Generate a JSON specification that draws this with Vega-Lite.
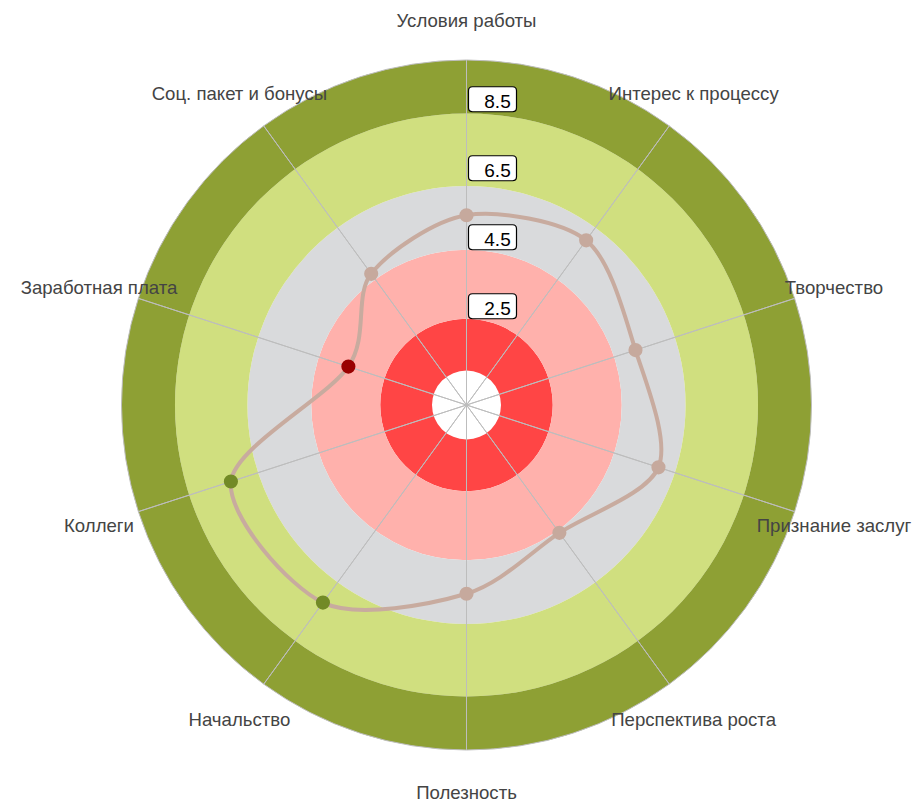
{
  "$schema": "https://vega.github.io/schema/vega-lite/v6.json",
  "width": 780,
  "height": 780,
  "autosize": "none",
  "padding": {"left": 76.5, "top": 15, "right": 61.5, "bottom": 11},
  "background": "white",
  "config": {"view": {"stroke": null}},
  "datasets": {
    "axes": [
      {"idx": 0, "axis": "Условия работы", "value": 5.5},
      {"idx": 1, "axis": "Интерес к процессу", "value": 5.9},
      {"idx": 2, "axis": "Творчество", "value": 5.15},
      {"idx": 3, "axis": "Признание заслуг", "value": 5.85},
      {"idx": 4, "axis": "Перспектива роста", "value": 4.58},
      {"idx": 5, "axis": "Полезность", "value": 5.47},
      {"idx": 6, "axis": "Начальство", "value": 7.08},
      {"idx": 7, "axis": "Коллеги", "value": 7.18},
      {"idx": 8, "axis": "Заработная плата", "value": 3.6},
      {"idx": 9, "axis": "Соц. пакет и бонусы", "value": 4.7}
    ],
    "bands": [
      {"band": "zone1", "from": 1, "to": 2.5},
      {"band": "zone2", "from": 2.5, "to": 4.5},
      {"band": "zone3", "from": 4.5, "to": 6.35},
      {"band": "zone4", "from": 6.35, "to": 8.45},
      {"band": "zone5", "from": 8.45, "to": 10}
    ],
    "ticks": [
      {"v": 2.5, "label": "2.5"},
      {"v": 4.5, "label": "4.5"},
      {"v": 6.5, "label": "6.5"},
      {"v": 8.5, "label": "8.5"}
    ]
  },
  "resolve": {"scale": {"color": "independent"}},
  "layer": [
    {
      "data": {"name": "bands"},
      "mark": {"type": "arc", "theta": 0, "theta2": 6.283185307179586},
      "encoding": {
        "radius": {"field": "to", "type": "quantitative", "scale": {"type": "linear", "domain": [0, 10], "range": [0, 345], "zero": true, "nice": false}},
        "radius2": {"field": "from"},
        "color": {
          "field": "band", "type": "nominal", "legend": null,
          "scale": {"domain": ["zone1", "zone2", "zone3", "zone4", "zone5"], "range": ["#ff4545", "#ffb1ac", "#d9dadc", "#d0df7f", "#8ea034"]}
        }
      }
    },
    {
      "data": {"name": "axes"},
      "mark": {"type": "arc", "fill": "white", "fillOpacity": 0, "stroke": "#bdbdbd", "strokeWidth": 1},
      "encoding": {
        "theta": {"aggregate": "count", "type": "quantitative", "scale": {"domain": [0, 10], "range": [0, 6.283185307179586]}},
        "radius": {"datum": 10, "type": "quantitative", "scale": {"type": "linear", "domain": [0, 10], "range": [0, 345], "zero": true, "nice": false}},
        "detail": {"field": "axis", "type": "nominal"}
      }
    },
    {
      "data": {"name": "axes"},
      "mark": {"type": "text", "font": "Liberation Sans", "fontSize": 18.6, "color": "#444444", "align": "center", "baseline": "middle", "dy": 2},
      "encoding": {
        "theta": {"field": "idx", "type": "quantitative", "stack": false, "scale": {"domain": [0, 10], "range": [0, 6.283185307179586]}},
        "radius": {"datum": 11.2, "type": "quantitative", "scale": {"type": "linear", "domain": [0, 10], "range": [0, 345], "zero": true, "nice": false}},
        "text": {"field": "axis", "type": "nominal"}
      }
    },
    {
      "data": {"name": "axes"},
      "transform": [
        {"calculate": "datum.value * sin(datum.idx * PI / 5)", "as": "px"},
        {"calculate": "datum.value * cos(datum.idx * PI / 5)", "as": "py"}
      ],
      "mark": {"type": "line", "interpolate": "cardinal-closed", "tension": 0.12, "color": "#c8ab9f", "strokeWidth": 4},
      "encoding": {
        "x": {"field": "px", "type": "quantitative", "axis": null, "scale": {"domain": [-11.30435, 11.30435], "nice": false, "zero": false}},
        "y": {"field": "py", "type": "quantitative", "axis": null, "scale": {"domain": [-11.30435, 11.30435], "nice": false, "zero": false}},
        "order": {"field": "idx", "type": "quantitative"}
      }
    },
    {
      "data": {"name": "axes"},
      "transform": [
        {"calculate": "datum.value * sin(datum.idx * PI / 5)", "as": "px"},
        {"calculate": "datum.value * cos(datum.idx * PI / 5)", "as": "py"}
      ],
      "mark": {"type": "point", "filled": true, "size": 200, "opacity": 1, "strokeWidth": 0},
      "encoding": {
        "x": {"field": "px", "type": "quantitative", "axis": null, "scale": {"domain": [-11.30435, 11.30435], "nice": false, "zero": false}},
        "y": {"field": "py", "type": "quantitative", "axis": null, "scale": {"domain": [-11.30435, 11.30435], "nice": false, "zero": false}},
        "color": {
          "field": "value", "type": "quantitative", "legend": null,
          "scale": {"type": "threshold", "domain": [4.5, 6.35], "range": ["#990000", "#c6a99d", "#728a26"]}
        }
      }
    },
    {
      "data": {"name": "ticks"},
      "mark": {
        "type": "point", "filled": true, "opacity": 1, "size": 2500,
        "shape": "M0.24,-1 L1.84,-1 Q2,-1 2,-0.84 L2,-0.16 Q2,0 1.84,0 L0.24,0 Q0.08,0 0.08,-0.16 L0.08,-0.84 Q0.08,-1 0.24,-1 Z",
        "fill": "white", "stroke": "black", "strokeWidth": 1.2
      },
      "encoding": {
        "x": {"datum": 0, "type": "quantitative"},
        "y": {"field": "v", "type": "quantitative"}
      }
    },
    {
      "data": {"name": "ticks"},
      "mark": {"type": "text", "font": "Liberation Sans", "fontSize": 19, "color": "black", "align": "center", "baseline": "alphabetic", "dx": 31, "dy": -4},
      "encoding": {
        "x": {"datum": 0, "type": "quantitative"},
        "y": {"field": "v", "type": "quantitative"},
        "text": {"field": "label", "type": "nominal"}
      }
    }
  ]
}
